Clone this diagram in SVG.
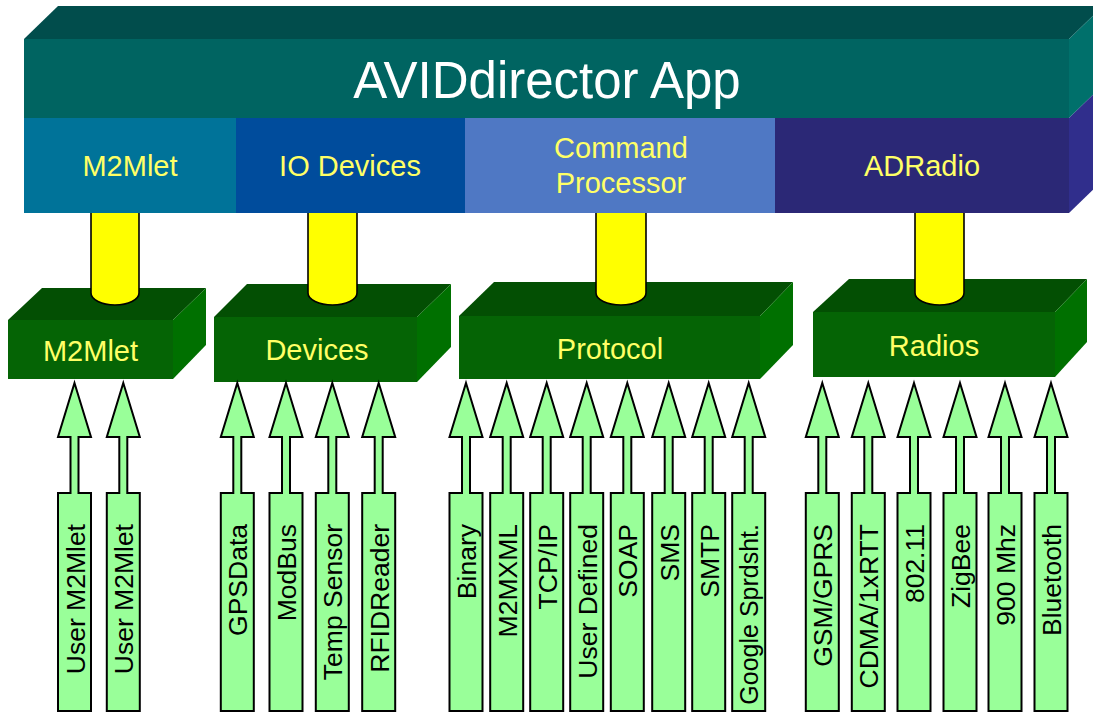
<svg xmlns="http://www.w3.org/2000/svg" width="1093" height="713" viewBox="0 0 1093 713">
<style>
.lbl{font-family:"Liberation Sans",Arial,sans-serif;fill:#ffff66;font-size:29px;text-anchor:middle}
.title{font-family:"Liberation Sans",Arial,sans-serif;fill:#ffffff;font-size:51px;text-anchor:middle}
.arr{fill:#99ff99;stroke:#000;stroke-width:2;stroke-linejoin:miter}
.at{font-family:"Liberation Sans",Arial,sans-serif;fill:#000;font-size:26.5px;text-anchor:end}
.pipe{fill:#ffff00;stroke:#000;stroke-width:1.6}
.btop{fill:#034f03}
.bfront{fill:#056405}
.bside{fill:#007000}
</style>
<rect width="1093" height="713" fill="#ffffff"/>
<g id="app">
  <polygon points="24,39 58,6 1103,6 1069,39" fill="#014d4c"/>
  <rect x="24" y="39" width="1045" height="79" fill="#006461"/>
  <polygon points="1069,39 1103,6 1103,85 1069,118" fill="#00706b"/>
  <polygon points="1069,118 1103,85 1103,180 1069,213" fill="#302e8c"/>
  <text class="title" x="547" y="98">AVIDdirector App</text>
</g>
<g id="cell-m2mlet">
  <rect x="24" y="118" width="212" height="95" fill="#007399"/>
  <text class="lbl" x="130" y="176">M2Mlet</text>
</g>
<g id="cell-io">
  <rect x="236" y="118" width="229" height="95" fill="#004c9c"/>
  <text class="lbl" x="350" y="176">IO Devices</text>
</g>
<g id="cell-cmd">
  <rect x="465" y="118" width="310" height="95" fill="#4f78c4"/>
  <text class="lbl" x="621" y="158">Command</text>
  <text class="lbl" x="621" y="193">Processor</text>
</g>
<g id="cell-adradio">
  <rect x="775" y="118" width="294" height="95" fill="#2b2876"/>
  <text class="lbl" x="922" y="176">ADRadio</text>
</g>
<g id="block-m2mlet">
  <polygon class="btop" points="8,320 42,288 206,288 173,320"/>
  <rect class="bfront" x="8" y="320" width="165" height="59"/>
  <polygon class="bside" points="173,320 206,288 206,345 173,379"/>
  <text class="lbl" x="90.5" y="361">M2Mlet</text>
</g>
<g id="block-devices">
  <polygon class="btop" points="214,317 247,284 451,284 417,317"/>
  <rect class="bfront" x="214" y="317" width="203" height="65"/>
  <polygon class="bside" points="417,317 451,284 451,347 417,382"/>
  <text class="lbl" x="317" y="360">Devices</text>
</g>
<g id="block-protocol">
  <polygon class="btop" points="459,316 494,282 793,282 760,316"/>
  <rect class="bfront" x="459" y="316" width="301" height="63"/>
  <polygon class="bside" points="760,316 793,282 793,345 760,379"/>
  <text class="lbl" x="610" y="359">Protocol</text>
</g>
<g id="block-radios">
  <polygon class="btop" points="813,312 849,279 1087,279 1055,312"/>
  <rect class="bfront" x="813" y="312" width="242" height="65"/>
  <polygon class="bside" points="1055,312 1087,279 1087,342 1055,377"/>
  <text class="lbl" x="934" y="356">Radios</text>
</g>
<g id="connectors">
  <path class="pipe" d="M91,213 L91,293 A24,12 0 0 0 139,293 L139,213"/>
  <path class="pipe" d="M308,213 L308,293 A24.5,12 0 0 0 357,293 L357,213"/>
  <path class="pipe" d="M596,213 L596,293 A25,12 0 0 0 646,293 L646,213"/>
  <path class="pipe" d="M915,213 L915,293 A24.5,12 0 0 0 964,293 L964,213"/>
</g>
<defs>
  <path id="ar" class="arr" d="M0,383 L16.5,437 L4,437 L4,493 L16.5,493 L16.5,711 L-16.5,711 L-16.5,493 L-4,493 L-4,437 L-16.5,437 Z"/>
</defs>
<g id="input-user-m2mlet-1"><use href="#ar" x="74.5"/><text class="at" transform="translate(84.5,524) rotate(-90)">User M2Mlet</text></g>
<g id="input-user-m2mlet-2"><use href="#ar" x="123.3"/><text class="at" transform="translate(133.3,524) rotate(-90)">User M2Mlet</text></g>
<g id="input-gpsdata"><use href="#ar" x="237.3"/><text class="at" transform="translate(247.3,524) rotate(-90)">GPSData</text></g>
<g id="input-modbus"><use href="#ar" x="286"/><text class="at" transform="translate(296,524) rotate(-90)">ModBus</text></g>
<g id="input-temp"><use href="#ar" x="332.3"/><text class="at" transform="translate(342.3,524) rotate(-90)">Temp Sensor</text></g>
<g id="input-rfid"><use href="#ar" x="378.7"/><text class="at" transform="translate(388.7,524) rotate(-90)">RFIDReader</text></g>
<g id="input-binary"><use href="#ar" x="466"/><text class="at" transform="translate(476,524) rotate(-90)">Binary</text></g>
<g id="input-m2mxml"><use href="#ar" x="506.7"/><text class="at" transform="translate(516.7,524) rotate(-90)">M2MXML</text></g>
<g id="input-tcpip"><use href="#ar" x="546.7"/><text class="at" transform="translate(556.7,524) rotate(-90)">TCP/IP</text></g>
<g id="input-userdef"><use href="#ar" x="586.7"/><text class="at" transform="translate(596.7,524) rotate(-90)">User Defined</text></g>
<g id="input-soap"><use href="#ar" x="627.3"/><text class="at" transform="translate(637.3,524) rotate(-90)">SOAP</text></g>
<g id="input-sms"><use href="#ar" x="668.7"/><text class="at" transform="translate(678.7,524) rotate(-90)">SMS</text></g>
<g id="input-smtp"><use href="#ar" x="708.7"/><text class="at" transform="translate(718.7,524) rotate(-90)">SMTP</text></g>
<g id="input-google"><use href="#ar" x="748.7"/><text class="at" style="font-size:25px" transform="translate(758.2,524) rotate(-90)">Google Sprdsht.</text></g>
<g id="input-gsm"><use href="#ar" x="822.3"/><text class="at" transform="translate(832.3,524) rotate(-90)">GSM/GPRS</text></g>
<g id="input-cdma"><use href="#ar" x="868.3"/><text class="at" transform="translate(878.3,524) rotate(-90)">CDMA/1xRTT</text></g>
<g id="input-80211"><use href="#ar" x="914"/><text class="at" transform="translate(924,524) rotate(-90)">802.11</text></g>
<g id="input-zigbee"><use href="#ar" x="960"/><text class="at" transform="translate(970,524) rotate(-90)">ZigBee</text></g>
<g id="input-900"><use href="#ar" x="1005"/><text class="at" transform="translate(1015,524) rotate(-90)">900 Mhz</text></g>
<g id="input-bluetooth"><use href="#ar" x="1051"/><text class="at" transform="translate(1061,524) rotate(-90)">Bluetooth</text></g>
</svg>
